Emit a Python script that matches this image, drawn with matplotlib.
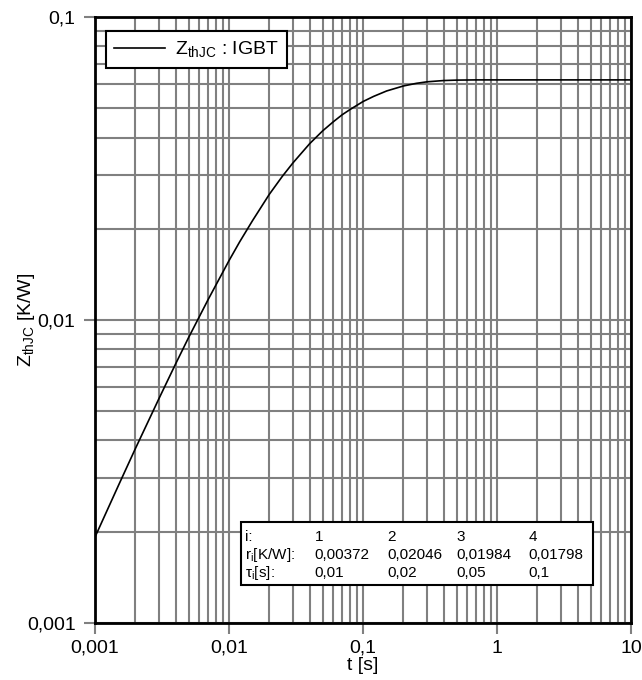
import matplotlib
matplotlib.use("Agg")
from matplotlib import pyplot as plt
from matplotlib.patches import Rectangle

plt.rcParams["font.family"] = ["Liberation Sans", "DejaVu Sans"]
plt.rcParams["mathtext.fontset"] = "custom"
plt.rcParams["mathtext.rm"] = "Liberation Sans"
plt.rcParams["mathtext.it"] = "Liberation Sans"

# curve points: worked out by hand from the r_i / tau_i table printed in the chart,
# then checked against the drawn curve (start ~0,0019, plateau ~0,062)
t_vals = [0.001, 0.0015, 0.002, 0.003, 0.004, 0.005, 0.007, 0.01, 0.012, 0.015,
          0.02, 0.025, 0.03, 0.04, 0.05, 0.06, 0.07, 0.08, 0.1, 0.12, 0.15,
          0.2, 0.25, 0.3, 0.4, 0.5, 0.7, 1, 2, 5, 10]
z_vals = [0.00192, 0.00285, 0.00376, 0.00550, 0.00717, 0.00876, 0.0117, 0.0157,
          0.0181, 0.0213, 0.0260, 0.0298, 0.0330, 0.0382, 0.0421, 0.0451,
          0.0476, 0.0495, 0.0526, 0.0547, 0.0570, 0.0592, 0.0604, 0.0611,
          0.0617, 0.0619, 0.0620, 0.0620, 0.0620, 0.0620, 0.0620]

# foster table
idx = [1, 2, 3, 4]
r_vals = ["0,00372", "0,02046", "0,01984", "0,01798"]
tau_vals = ["0,01", "0,02", "0,05", "0,1"]

x_ticks = [0.001, 0.01, 0.1, 1, 10]
x_labels = ["0,001", "0,01", "0,1", "1", "10"]
y_ticks = [0.001, 0.01, 0.1]
y_labels = ["0,001", "0,01", "0,1"]

fig = plt.figure(figsize=(6.42, 6.80), dpi=100)
ax = fig.add_axes([0.148, 0.084, 0.835, 0.891])

ax.plot(t_vals, z_vals, color="black", lw=1.2, label=r"$\mathregular{Z_{thJC}}$ : IGBT", zorder=3)
ax.set_xscale("log")
ax.set_yscale("log")
ax.set_xlim(0.001, 10)
ax.set_ylim(0.001, 0.1)

ax.set_xticks(x_ticks)
ax.set_xticklabels(x_labels)
ax.set_yticks(y_ticks)
ax.set_yticklabels(y_labels)
ax.tick_params(which="major", direction="out", length=8, width=1.5, color="#808080", labelsize=14)
ax.tick_params(axis="y", pad=6)
ax.tick_params(axis="x", pad=4)
ax.tick_params(which="minor", length=0)
ax.grid(True, which="both", color="#808080", lw=1.5)
ax.set_axisbelow(True)
for s in ax.spines.values():
    s.set_linewidth(2)
    s.set_color("black")

ax.set_xlabel("t [s]", fontsize=14, labelpad=0)
ax.set_ylabel(r"$\mathregular{Z_{thJC}}$ [K/W]", fontsize=14, labelpad=-7)

leg = ax.legend(loc="upper left", fontsize=14, fancybox=False, framealpha=1,
                edgecolor="black", handlelength=2.6, handletextpad=0.5,
                borderpad=0.45, borderaxespad=0.55, bbox_to_anchor=(0.0, 0.995))
leg.get_frame().set_linewidth(1.5)

# table box
ax.add_patch(Rectangle((0.272, 0.063), 0.657, 0.104, transform=ax.transAxes,
                       facecolor="white", edgecolor="black", lw=1.5, zorder=4))
rows_y = [0.142, 0.112, 0.083]
col_x = [0.41, 0.545, 0.675, 0.808]
row_names = ["i:", r"r$\mathregular{_i}$[K/W]:", r"τ$\mathregular{_i}$[s]:"]
for name, y in zip(row_names, rows_y):
    ax.text(0.279, y, name, transform=ax.transAxes, fontsize=11, va="center", zorder=5)
for j in range(4):
    ax.text(col_x[j], rows_y[0], str(idx[j]), transform=ax.transAxes, fontsize=11, va="center", zorder=5)
    ax.text(col_x[j], rows_y[1], r_vals[j], transform=ax.transAxes, fontsize=11, va="center", zorder=5)
    ax.text(col_x[j], rows_y[2], tau_vals[j], transform=ax.transAxes, fontsize=11, va="center", zorder=5)

fig.savefig("out.png", dpi=100)
